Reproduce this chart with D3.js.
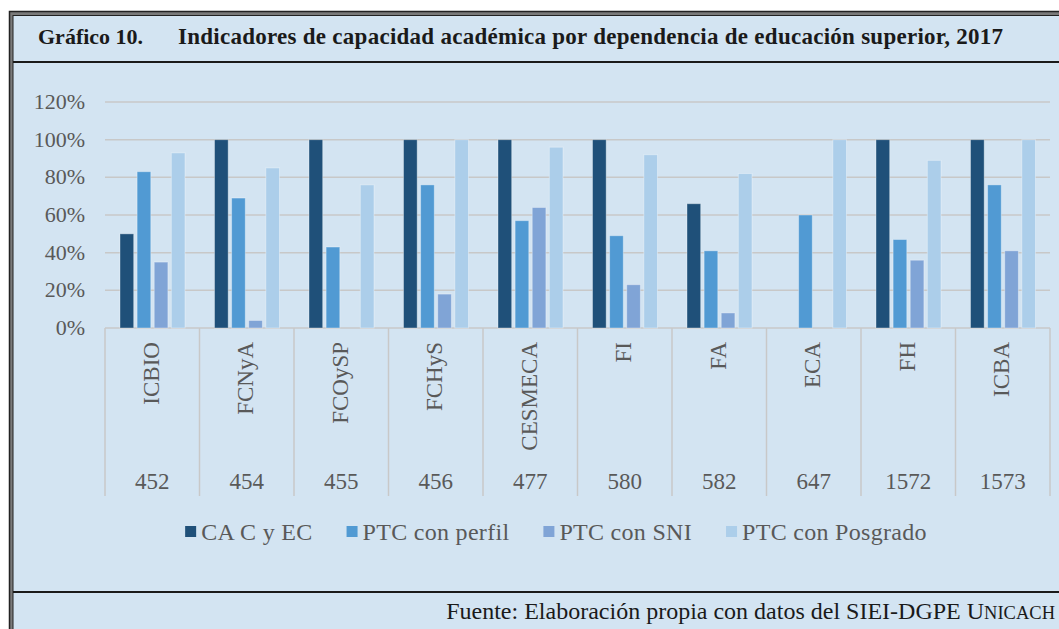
<!DOCTYPE html>
<html><head><meta charset="utf-8">
<script src="https://cdn.jsdelivr.net/npm/d3@7/dist/d3.min.js"></script>
<style>
html,body{margin:0;padding:0;background:#fff;}
svg{display:block;}
</style></head>
<body>
<svg id="chart" width="1059" height="629" font-family="Liberation Serif, serif"></svg>
<script>
const categories = ["ICBIO","FCNyA","FCOySP","FCHyS","CESMECA","FI","FA","ECA","FH","ICBA"];
const codes = ["452","454","455","456","477","580","582","647","1572","1573"];
const seriesNames = ["CA C y EC","PTC con perfil","PTC con SNI","PTC con Posgrado"];
const caCyEC = [50,100,100,100,100,100,66,0,100,100];
const ptcPerfil = [83,69,43,76,57,49,41,60,47,76];
const ptcSNI = [35,4,0,18,64,23,8,0,36,41];
const ptcPosgrado = [93,85,76,100,96,92,82,100,89,100];
const yTicks = [0,20,40,60,80,100,120];
const colors = ["#1f5079","#519ad3","#80a4d6","#acceea"];

const FONT = "Liberation Serif, serif";
const seriesValues = [caCyEC, ptcPerfil, ptcSNI, ptcPosgrado];
const svg = d3.select("#chart");
const bg = "#d3e4f2";

// frame
svg.append("rect").attr("x",9.5).attr("y",11.5).attr("width",1100).attr("height",700)
  .attr("fill","#7a7a7a").attr("stroke","#222").attr("stroke-width",1.5);
svg.append("rect").attr("x",13).attr("y",15.5).attr("width",1100).attr("height",700)
  .attr("fill",bg).attr("stroke","#222").attr("stroke-width",1);
svg.append("line").attr("x1",13).attr("x2",1059).attr("y1",62).attr("y2",62).attr("stroke","#1a1a1a").attr("stroke-width",2);
svg.append("line").attr("x1",13).attr("x2",1059).attr("y1",592).attr("y2",592).attr("stroke","#1a1a1a").attr("stroke-width",2);

// title
const title = svg.append("text").attr("y",44).attr("font-family",FONT).attr("font-size",22).attr("font-weight","bold").attr("fill","#1a1a1a");
title.append("tspan").attr("x",38).text("Gráfico 10.");
title.append("tspan").attr("x",178).attr("font-size",23).attr("textLength",825).attr("lengthAdjust","spacing")
  .text("Indicadores de capacidad académica por dependencia de educación superior, 2017");

// scales
const x0 = d3.scaleBand().domain(categories).range([105,1050]).padding(0);
const x1 = d3.scaleBand().domain(seriesNames).range([15, x0.bandwidth()-14.5]).paddingInner(0.2);
const y = d3.scaleLinear().domain([0,120]).range([328,102]);

// gridlines
svg.append("g").selectAll("line").data(yTicks).join("line")
  .attr("x1",105).attr("x2",1050).attr("y1",d=>y(d)).attr("y2",d=>y(d))
  .attr("stroke","#c8c8c8").attr("stroke-width",1.5);

// y labels
svg.append("g").selectAll("text").data(yTicks).join("text")
  .attr("x",85).attr("y",d=>y(d)+7).attr("text-anchor","end").attr("font-family",FONT)
  .attr("font-size",22).attr("fill","#595959").text(d=>d+"%");

// category separators
const bounds = categories.map(c=>x0(c)).concat([x0.range()[1]]);
svg.append("g").selectAll("line").data(bounds).join("line")
  .attr("x1",d=>d).attr("x2",d=>d).attr("y1",328).attr("y2",496)
  .attr("stroke","#c8c8c8").attr("stroke-width",1.5);

// bars
const barData = [];
categories.forEach((c,i)=>{
  seriesNames.forEach((s,j)=>{
    barData.push({c, s, v: seriesValues[j][i], color: colors[j]});
  });
});
svg.append("g").selectAll("rect").data(barData.filter(d=>d.v>0)).join("rect")
  .attr("x",d=>x0(d.c)+x1(d.s)).attr("width",x1.bandwidth())
  .attr("y",d=>y(d.v)).attr("height",d=>y(0)-y(d.v))
  .attr("fill",d=>d.color).attr("stroke","rgba(255,255,255,0.35)").attr("stroke-width",1);

// category names (rotated)
svg.append("g").selectAll("text").data(categories).join("text")
  .attr("transform",d=>`translate(${x0(d)+x0.bandwidth()/2-1},342) rotate(-90)`)
  .attr("text-anchor","end").attr("dominant-baseline","central").attr("font-family",FONT)
  .attr("font-size",23).attr("fill","#595959").text(d=>d);

// codes
svg.append("g").selectAll("text").data(codes).join("text")
  .attr("x",(d,i)=>x0(categories[i])+x0.bandwidth()/2).attr("y",489).attr("font-family",FONT)
  .attr("text-anchor","middle").attr("font-size",23).attr("fill","#595959").text(d=>d);

// legend
const lg = svg.append("g");
const items = lg.selectAll("g").data(seriesNames).join("g");
items.append("rect").attr("width",11).attr("height",11).attr("y",526).attr("fill",(d,i)=>colors[i]);
items.append("text").attr("x",16).attr("y",540).attr("font-family",FONT).attr("font-size",24)
  .attr("letter-spacing",0.3).attr("fill","#595959").text(d=>d);
let widths = [];
items.each(function(){ widths.push(16 + this.querySelector("text").getComputedTextLength()); });
const gap = 34;
const total = d3.sum(widths) + gap*(widths.length-1);
let cx = 556 - total/2;
items.each(function(d,i){
  d3.select(this).attr("transform",`translate(${cx},0)`);
  cx += widths[i] + gap;
});

// footer
const foot = svg.append("text").attr("x",1055).attr("y",619).attr("text-anchor","end").attr("font-family",FONT)
  .attr("font-size",24).attr("fill","#1a1a1a");
foot.append("tspan").text("Fuente: Elaboración propia con datos del SIEI-DGPE U");
foot.append("tspan").attr("font-size",18.5).text("NICACH");
</script>
</body></html>
